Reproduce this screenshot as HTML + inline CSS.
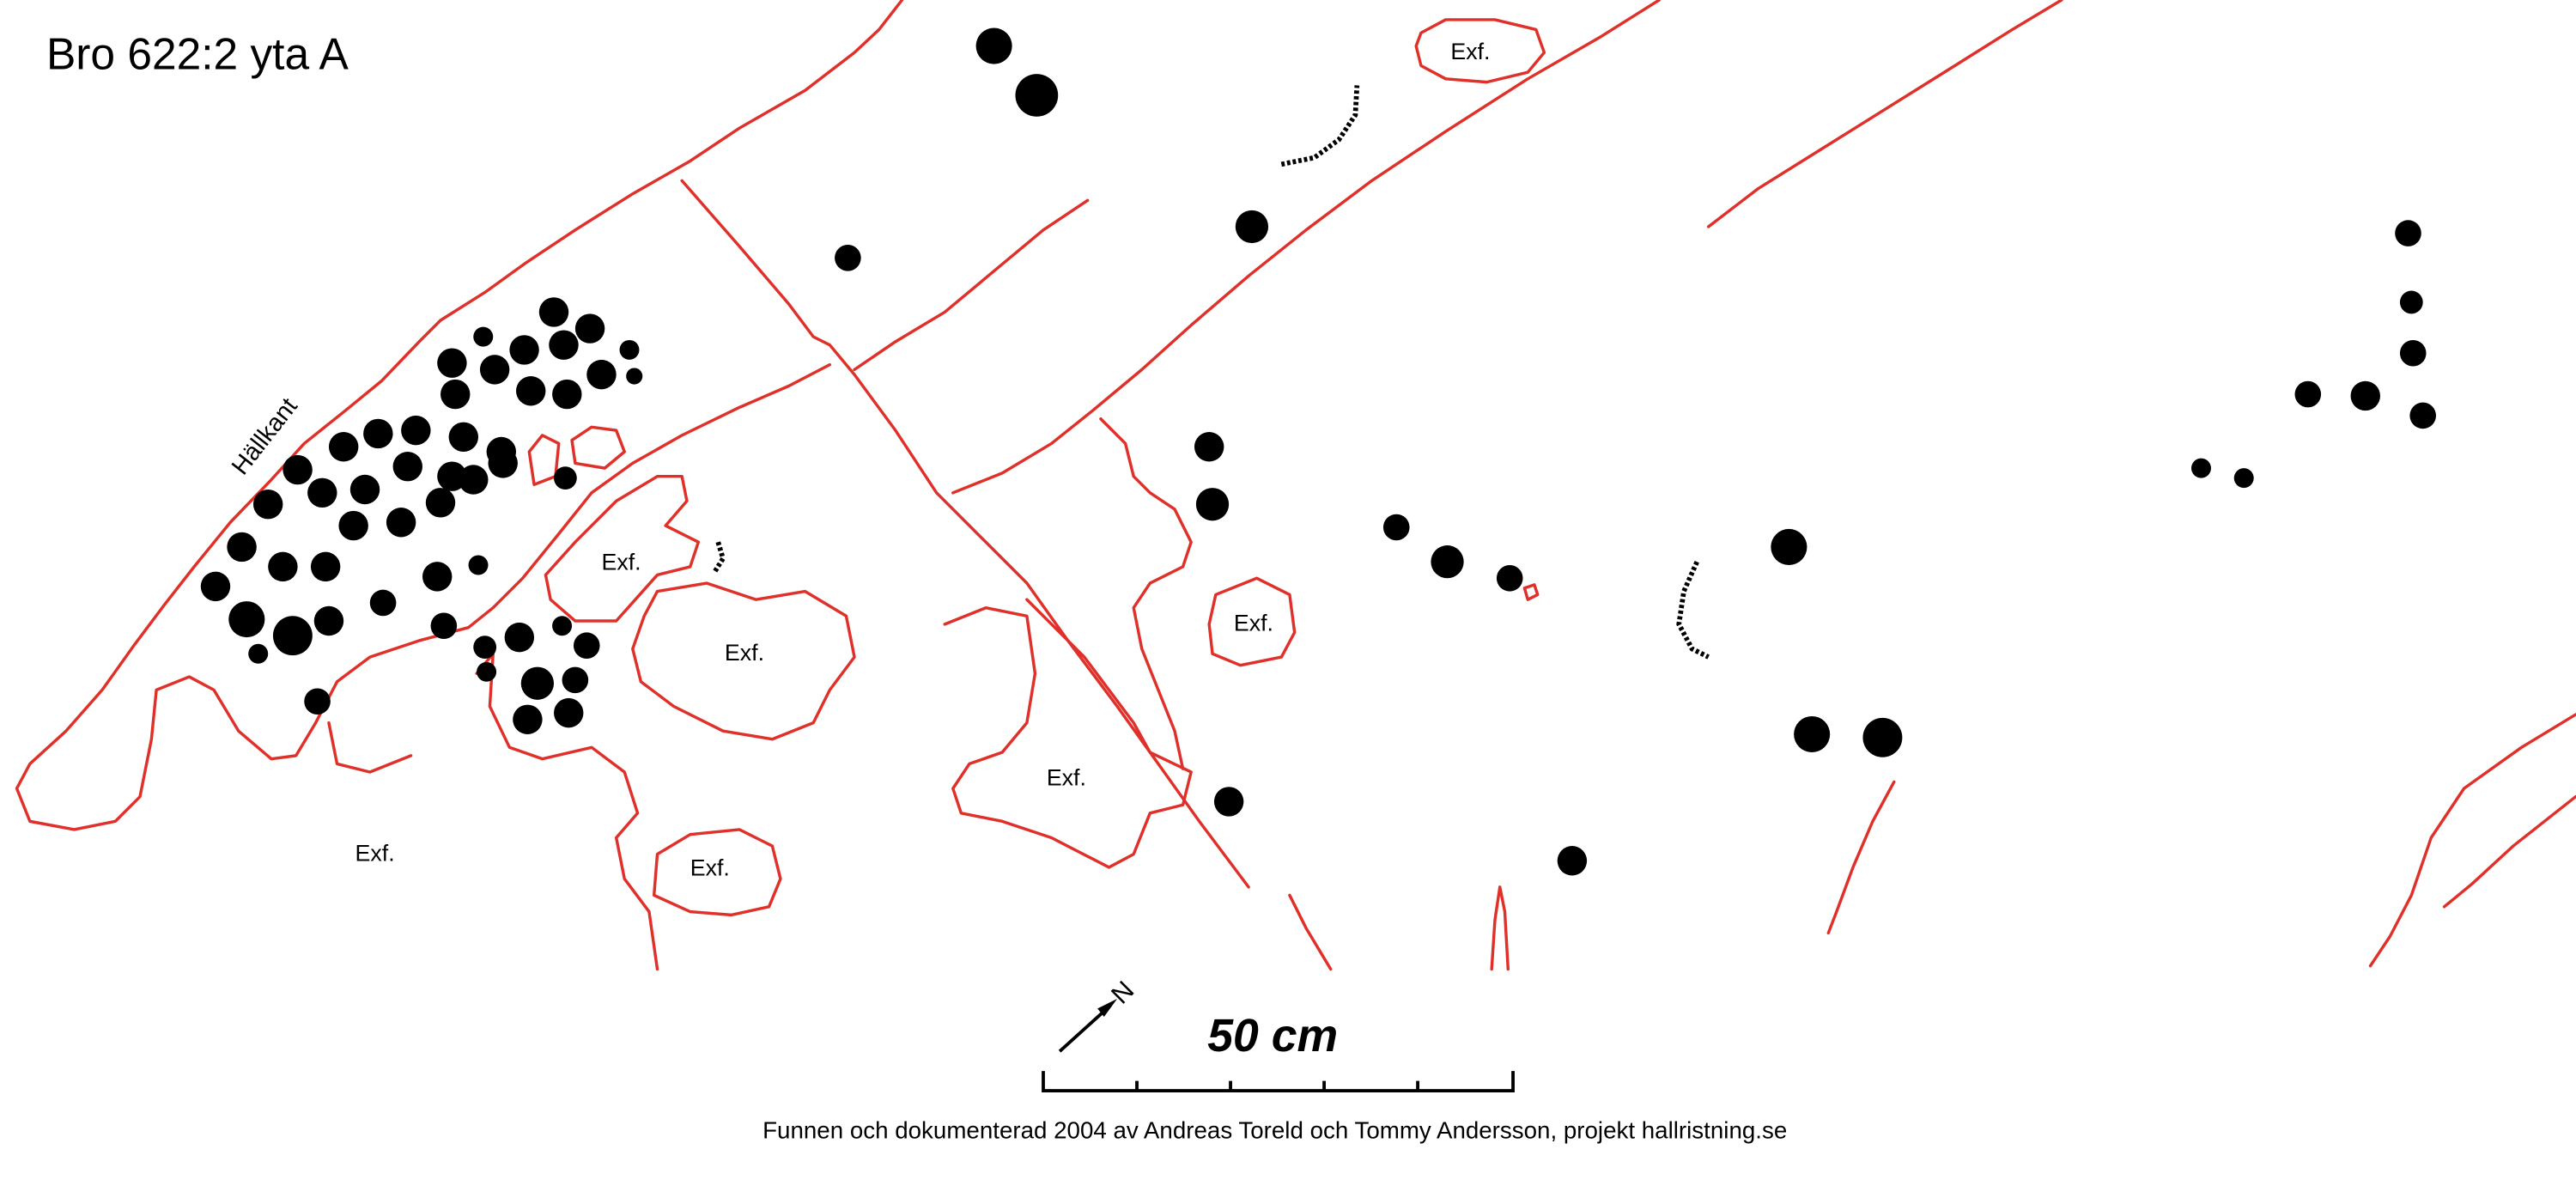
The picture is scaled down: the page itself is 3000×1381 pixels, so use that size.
<!DOCTYPE html>
<html><head><meta charset="utf-8"><style>
html,body{margin:0;padding:0;background:#fff}
svg{display:block}
text{font-family:"Liberation Sans",sans-serif;fill:#000}
</style></head><body>
<svg width="3000" height="1381" viewBox="0 0 1568 722" xmlns="http://www.w3.org/2000/svg">
<rect width="1568" height="722" fill="#fff"/>
<g fill="none" stroke="#e0302a" stroke-width="1.8" stroke-linejoin="round" stroke-linecap="round">
<path d="M549,0 L535,18 L520,32 L490,55 L450,78 L420,98 L385,118 L350,140 L320,160 L295,178 L268,195 L255,208 L232,232 L210,250 L185,270 L165,292 L140,318 L118,345 L100,368 L82,392 L62,420 L40,445 L18,465 L10,480 L18,500 L45,505 L70,500 L85,485 L92,450 L95,420 L115,412 L130,420 L145,445 L165,462 L180,460 L192,440 L205,415 L225,400 L255,390 L285,382 L300,370 L318,352 L340,325 L360,300 L385,282 L415,265 L450,248 L480,235 L505,222"/>
<path d="M415,110 L450,150 L480,185 L495,205 L505,210 L520,228 L545,262 L570,300 L600,330 L625,355 L650,390 L680,430 L705,465 L730,500 L760,540"/>
<path d="M785,545 L795,565 L810,590"/>
<path d="M520,225 L545,208 L575,190 L605,165 L635,140 L662,122"/>
<path d="M1010,0 L975,22 L930,48 L880,80 L835,110 L795,140 L760,168 L725,198 L695,225 L665,250 L640,270 L610,288 L580,300"/>
<path d="M1255,0 L1225,18 L1190,40 L1150,65 L1110,90 L1070,115 L1040,138"/>
<path d="M1568,435 L1535,455 L1500,480 L1480,510 L1468,545 L1455,570 L1443,588"/>
<path d="M1568,485 L1530,515 L1505,538 L1488,552"/>
<path d="M1153,476 L1140,500 L1128,528 L1118,555 L1113,568"/>
<path d="M908,590 L910,560 L913,540 L916,555 L918,590"/>
<path d="M200,440 L205,465 L225,470 L250,460"/>
<path d="M290,410 L300,398 L298,430 L310,455 L330,462 L360,455 L380,470 L388,495 L375,510 L380,535 L395,555 L400,590"/>
<path d="M400,350 L375,378 L350,378 L335,365 L332,350 L350,330 L375,305 L400,290 L415,290 L418,305 L405,320 L425,330 L420,345 Z"/>
<path d="M400,360 L430,355 L460,365 L490,360 L515,375 L520,400 L505,420 L495,440 L470,450 L440,445 L410,430 L390,415 L385,395 L392,375 Z"/>
<path d="M740,362 L765,352 L785,362 L788,385 L780,400 L755,405 L738,398 L736,380 Z"/>
<path d="M575,380 L600,370 L625,375 L630,410 L625,440 L610,458 L590,465 L580,480 L585,495 L610,500 L640,510 L675,528 L690,520 L700,495 L720,490 L725,470 L700,458 L690,440 L675,420 L660,400 L640,380 L625,365"/>
<path d="M670,255 L685,270 L690,290 L700,300 L715,310 L725,330 L720,345 L700,355 L690,370 L695,395 L705,420 L715,445 L720,468"/>
<path d="M400,520 L420,508 L450,505 L470,515 L475,535 L468,552 L445,557 L420,555 L398,545 Z"/>
<path d="M865,20 L880,12 L910,12 L935,18 L940,32 L930,44 L905,50 L880,48 L865,40 L862,28 Z"/>
<path d="M322,275 L330,265 L340,270 L338,290 L325,295 Z"/>
<path d="M348,268 L360,260 L375,262 L380,275 L368,285 L350,282 Z"/>
<path d="M928,358 L934,356 L936,362 L930,365 Z"/>
</g>
<g fill="#000">
<circle cx="605" cy="28" r="11"/><circle cx="631" cy="58" r="13"/><circle cx="516" cy="157" r="8"/><circle cx="762" cy="138" r="10"/>
<circle cx="337" cy="190" r="9"/><circle cx="359" cy="200" r="9"/><circle cx="294" cy="205" r="6"/><circle cx="383" cy="213" r="6"/><circle cx="386" cy="229" r="5"/><circle cx="319" cy="213" r="9"/><circle cx="343" cy="210" r="9"/><circle cx="275" cy="221" r="9"/><circle cx="301" cy="225" r="9"/><circle cx="323" cy="238" r="9"/><circle cx="366" cy="228" r="9"/><circle cx="345" cy="240" r="9"/><circle cx="277" cy="240" r="9"/>
<circle cx="230" cy="264" r="9"/><circle cx="253" cy="262" r="9"/><circle cx="282" cy="266" r="9"/><circle cx="305" cy="275" r="9"/><circle cx="209" cy="272" r="9"/><circle cx="181" cy="286" r="9"/><circle cx="222" cy="298" r="9"/><circle cx="248" cy="284" r="9"/><circle cx="275" cy="290" r="9"/><circle cx="306" cy="282" r="9"/><circle cx="344" cy="291" r="7"/><circle cx="163" cy="307" r="9"/><circle cx="196" cy="300" r="9"/><circle cx="215" cy="320" r="9"/><circle cx="244" cy="318" r="9"/><circle cx="268" cy="306" r="9"/><circle cx="288" cy="292" r="9"/><circle cx="147" cy="333" r="9"/><circle cx="172" cy="345" r="9"/><circle cx="198" cy="345" r="9"/><circle cx="131" cy="357" r="9"/><circle cx="233" cy="367" r="8"/><circle cx="266" cy="351" r="9"/><circle cx="291" cy="344" r="6"/><circle cx="150" cy="377" r="11"/><circle cx="178" cy="387" r="12"/><circle cx="200" cy="378" r="9"/><circle cx="270" cy="381" r="8"/><circle cx="157" cy="398" r="6"/><circle cx="193" cy="427" r="8"/>
<circle cx="295" cy="394" r="7"/><circle cx="316" cy="388" r="9"/><circle cx="342" cy="381" r="6"/><circle cx="357" cy="393" r="8"/><circle cx="327" cy="416" r="10"/><circle cx="350" cy="414" r="8"/><circle cx="321" cy="438" r="9"/><circle cx="346" cy="434" r="9"/><circle cx="296" cy="409" r="6"/>
<circle cx="736" cy="272" r="9"/><circle cx="738" cy="307" r="10"/><circle cx="850" cy="321" r="8"/><circle cx="881" cy="342" r="10"/><circle cx="919" cy="352" r="8"/><circle cx="1089" cy="333" r="11"/><circle cx="1103" cy="447" r="11"/><circle cx="1146" cy="449" r="12"/><circle cx="748" cy="488" r="9"/><circle cx="957" cy="524" r="9"/>
<circle cx="1466" cy="142" r="8"/><circle cx="1468" cy="184" r="7"/><circle cx="1469" cy="215" r="8"/><circle cx="1405" cy="240" r="8"/><circle cx="1440" cy="241" r="9"/><circle cx="1475" cy="253" r="8"/><circle cx="1340" cy="285" r="6"/><circle cx="1366" cy="291" r="6"/>
</g>
<g fill="none" stroke="#000" stroke-width="3" stroke-dasharray="2 1.5">
<path d="M780,100 L800,96 L815,85 L825,70 L826,52"/>
<path d="M1033,342 L1025,360 L1022,380 L1030,395 L1040,400"/>
<path d="M437,330 L440,340 L435,348"/>
</g>
<g font-size="14">
<text x="883" y="36">Exf.</text><text x="366" y="347">Exf.</text><text x="441" y="402">Exf.</text><text x="751" y="384">Exf.</text><text x="637" y="478">Exf.</text><text x="420" y="533">Exf.</text><text x="216" y="524">Exf.</text>
</g>
<text x="148" y="290" font-size="15" transform="rotate(-52 148 290)">Hällkant</text>
<text x="28" y="42" font-size="27" textLength="184" lengthAdjust="spacingAndGlyphs">Bro 622:2 yta A</text>
<g stroke="#000" stroke-width="2" fill="none">
<path d="M645,640 L676,612"/><path d="M635,652 L635,664 L921,664 L921,652"/>
<path d="M692,664 V658 M749,664 V658 M806,664 V658 M863,664 V658"/>
</g>
<path d="M680,608 L668,614 L672,619 Z" fill="#000"/>
<text x="683" y="612" font-size="16" transform="rotate(-45 683 612)">N</text>
<text x="735" y="640" font-size="28" font-weight="bold" font-style="italic">50 cm</text>
<text x="776" y="693" font-size="14.5" text-anchor="middle">Funnen och dokumenterad 2004 av Andreas Toreld och Tommy Andersson, projekt hallristning.se</text>
</svg>
</body></html>
